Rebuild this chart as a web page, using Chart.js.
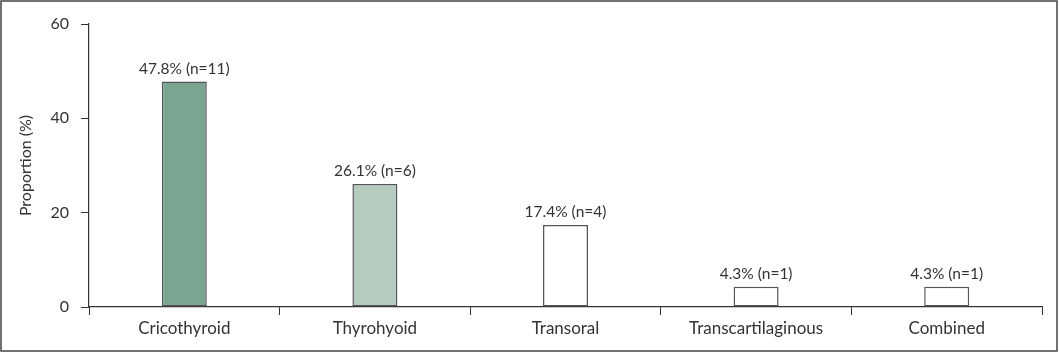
<!DOCTYPE html>
<html>
<head>
<meta charset="utf-8">
<script src="https://cdn.jsdelivr.net/npm/chart.js@4/dist/chart.umd.min.js"></script>
<style>
html,body{margin:0;padding:0;background:#fff;}
#wrap{position:relative;width:1059px;height:353px;}
</style>
</head>
<body>
<div id="wrap"><canvas id="c" width="1059" height="353"></canvas></div>
<script>
const categories = ["Cricothyroid", "Thyrohyoid", "Transoral", "Transcartilaginous", "Combined"];
const proportions = [47.8, 26.1, 17.4, 4.3, 4.3];
const counts = [11, 6, 4, 1, 1];
const barLabels = ["47.8% (n=11)", "26.1% (n=6)", "17.4% (n=4)", "4.3% (n=1)", "4.3% (n=1)"];
const yTicks = [0, 20, 40, 60];
const barColors = ["#79a592", "#b5cbc0", "#ffffff", "#ffffff", "#ffffff"];

const FONT = "Lato, 'DejaVu Sans', sans-serif";
const TXT = "#333333";

const framePlugin = {
  id: 'frame',
  beforeDraw(chart) {
    const ctx = chart.ctx;
    ctx.save();
    ctx.fillStyle = '#fff';
    ctx.fillRect(0, 0, chart.width, chart.height);
    ctx.strokeStyle = '#444';
    ctx.lineWidth = 1.5;
    ctx.strokeRect(1, 1, chart.width - 3, chart.height - 3);
    ctx.restore();
  }
};

const labelPlugin = {
  id: 'barLabels',
  afterDatasetsDraw(chart) {
    const ctx = chart.ctx;
    const meta = chart.getDatasetMeta(0);
    ctx.save();
    ctx.font = "15.5px " + FONT;
    ctx.fillStyle = TXT;
    ctx.textAlign = 'center';
    ctx.textBaseline = 'alphabetic';
    meta.data.forEach((bar, i) => {
      ctx.fillText(barLabels[i], bar.x, bar.y - 8);
    });
    ctx.restore();
  }
};

new Chart(document.getElementById('c'), {
  type: 'bar',
  data: {
    labels: categories,
    datasets: [{
      data: proportions,
      backgroundColor: barColors,
      borderColor: '#555555',
      borderWidth: 1.5,
      borderSkipped: false,
      categoryPercentage: 1,
      barPercentage: 0.236
    }]
  },
  options: {
    responsive: false,
    animation: false,
    devicePixelRatio: 1,
    layout: { padding: { left: 0, right: 17, top: 24, bottom: 0 } },
    plugins: { legend: { display: false }, tooltip: { enabled: false } },
    scales: {
      x: {
        offset: true,
        grid: { offset: true, drawOnChartArea: false, drawTicks: true, tickLength: 8, color: '#333', lineWidth: 1 },
        border: { color: '#333', width: 1.2 },
        ticks: { font: { family: FONT, size: 17 }, color: TXT, padding: 3 },
        afterFit(scale) { scale.height = 46; }
      },
      y: {
        min: 0, max: 60,
        afterBuildTicks(scale) { scale.ticks = yTicks.map(v => ({ value: v })); },
        grid: { drawOnChartArea: false, drawTicks: true, tickLength: 8, color: '#333', lineWidth: 1 },
        border: { color: '#333', width: 1.2 },
        ticks: { font: { family: FONT, size: 16 }, color: TXT, padding: 12 },
        title: { display: true, text: 'Proportion (%)', font: { family: FONT, size: 16 }, color: TXT, padding: { top: 16, bottom: 4 } },
        afterFit(scale) { scale.width = 89; }
      }
    }
  },
  plugins: [framePlugin, labelPlugin]
});
</script>
</body>
</html>
